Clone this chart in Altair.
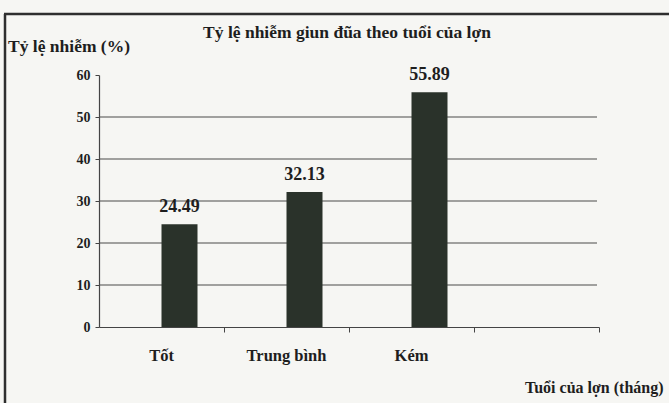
import altair as alt
import pandas as pd

categories = ["Tốt", "Trung bình", "Kém"]
values = [24.49, 32.13, 55.89]
x_domain = ["Tốt", "Trung bình", "Kém", " "]
y_ticks = [0, 10, 20, 30, 40, 50, 60]
grid_vals = [10, 20, 30, 40, 50]

chart_title = "Tỷ lệ nhiễm giun đũa theo tuổi của lợn"
y_title = "Tỷ lệ nhiễm (%)"
x_title = "Tuổi của lợn (tháng)"

FONT = "Liberation Serif"
INK = "#1e1e1e"
BAR = "#2a322a"

df = pd.DataFrame({"cat": categories, "val": values})
grid_df = pd.DataFrame({"g": grid_vals})

x_enc = alt.X(
    "cat:N",
    sort=x_domain,
    scale=alt.Scale(domain=x_domain, paddingInner=0, paddingOuter=0),
    axis=alt.Axis(
        title=None, labelFont=FONT, labelFontWeight="bold", labelFontSize=16.5,
        labelColor=INK, labelAngle=0, labelPadding=15, labelOffset=0,
        bandPosition=1, tickSize=5, tickColor="#444", domainColor="#444",
        domainWidth=1.2,
    ),
)
y_scale = alt.Scale(domain=[0, 60], nice=False)

bars = alt.Chart(df).mark_bar(color=BAR, width=36, xOffset=18).encode(
    x=x_enc,
    y=alt.Y(
        "val:Q", scale=y_scale,
        axis=alt.Axis(
            title=None, values=y_ticks, grid=False, labelFont=FONT,
            labelFontWeight="bold", labelFontSize=14, labelColor=INK,
            labelPadding=5, tickSize=4, tickColor="#444", domainColor="#444",
            domainWidth=1.2,
        ),
    ),
)

grid = alt.Chart(grid_df).mark_rule(color="#4a4a4a", strokeWidth=1.1).encode(
    y=alt.Y("g:Q", scale=y_scale),
    x=alt.value(0),
    x2=alt.value(498),
)

labels = alt.Chart(df).mark_text(
    font=FONT, fontWeight="bold", fontSize=18, color=INK,
    baseline="bottom", dy=-8, xOffset=18,
).encode(
    x=alt.X("cat:N", sort=x_domain),
    y=alt.Y("val:Q", scale=y_scale),
    text=alt.Text("val:Q", format=".2f"),
)

def note(txt, x, y, align="left", size=17.5):
    return alt.Chart(pd.DataFrame({"t": [txt]})).mark_text(
        font=FONT, fontWeight="bold", fontSize=size, color=INK,
        align=align, baseline="middle",
    ).encode(text="t:N", x=alt.value(x), y=alt.value(y))

title_t = note(chart_title, 248, -42, "center", 17.5)
ytitle_t = note(y_title, -91, -28, "left", 17.5)
xtitle_t = note(x_title, 426, 313, "left", 16)

frame_left = alt.Chart(pd.DataFrame({"a": [0]})).mark_rule(
    color="#2e2e2e", strokeWidth=2.5
).encode(x=alt.value(-94), y=alt.value(-61), y2=alt.value(330))
frame_top = alt.Chart(pd.DataFrame({"a": [0]})).mark_rule(
    color="#2e2e2e", strokeWidth=2.5
).encode(x=alt.value(-95), x2=alt.value(575), y=alt.value(-61))

chart = alt.layer(
    grid, bars, labels, title_t, ytitle_t, xtitle_t, frame_left, frame_top
).properties(
    width=500, height=252,
    autosize=alt.AutoSizeParams(type="none"),
    padding={"left": 99, "top": 75, "right": 70, "bottom": 76},
    background="#f6f6f3",
).configure_view(stroke=None).configure_axis(
    labelFont=FONT
).configure_text(font=FONT)

chart.save("out.html", embed_options={"renderer": "svg", "actions": False})
